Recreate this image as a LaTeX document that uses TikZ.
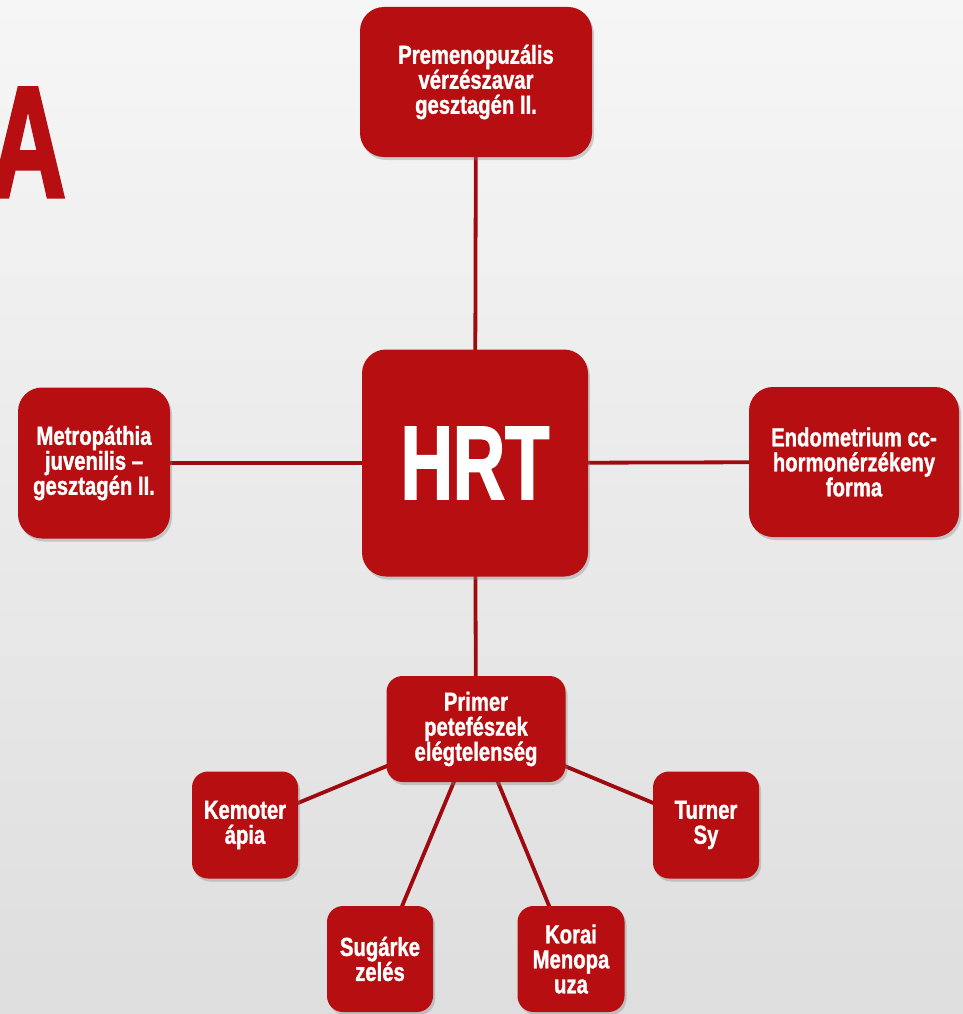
\documentclass[tikz,border=0pt]{standalone}
\usepackage{fontspec}
\usetikzlibrary{shadows,backgrounds}
\newfontfamily\boxfont{Liberation Sans}[FakeStretch=0.78,FakeBold=1.2]
\newfontfamily\hrtfont{Liberation Sans}[FakeStretch=0.69,FakeBold=1.5]
\newfontfamily\titlefont{Liberation Sans}[FakeStretch=0.66,FakeBold=2]
\definecolor{boxred}{RGB}{183,14,17}
\definecolor{linered}{RGB}{158,10,14}
\definecolor{bgtop}{RGB}{246,246,246}
\definecolor{bgbot}{RGB}{222,222,222}
\pgfdeclarelayer{bgzero}
\pgfsetlayers{bgzero,background,main}
\tikzset{
  redbox/.style={draw=none, fill=boxred, text=white, align=center, inner sep=0pt,
    drop shadow={opacity=0.35, shadow xshift=2pt, shadow yshift=-3pt},
    font=\boxfont\bfseries\fontsize{26}{25}\selectfont},
  bigbox/.style={redbox, rounded corners=24pt},
  smallbox/.style={redbox, rounded corners=16pt},
  conn/.style={draw=linered, line width=3.8pt}
}
\begin{document}
\begin{tikzpicture}[x=1pt,y=-1pt]
\useasboundingbox (0,0) rectangle (963,1014);
\begin{pgfonlayer}{bgzero}
\shade[top color=bgtop, bottom color=bgbot] (0,0) rectangle (963,1014);
\end{pgfonlayer}
\clip (0,0) rectangle (963,1014);
\node[anchor=base, inner sep=0pt, text=boxred, font=\titlefont\bfseries\fontsize{159}{159}\selectfont] (title) at (28,197) {A};
% main boxes
\node[bigbox, minimum width=232pt, minimum height=150pt] (top) at (476,82) {Premenopuzális\\vérzészavar\\gesztagén II.};
\node[bigbox, minimum width=226pt, minimum height=227pt, font=\hrtfont\bfseries\fontsize{105}{105}\selectfont] (hrt) at (475,463) {HRT};
\node[bigbox, minimum width=152pt, minimum height=151pt] (left) at (94,463) {Metropáthia\\juvenilis –\\gesztagén II.};
\node[bigbox, minimum width=210pt, minimum height=150pt] (right) at (854,462) {Endometrium cc-\\hormonérzékeny\\forma};
\node[smallbox, minimum width=179pt, minimum height=106pt] (prim) at (476,729) {Primer\\petefészek\\elégtelenség};
\node[smallbox, minimum width=106pt, minimum height=107pt] (kem) at (245,825) {Kemoter\\ápia};
\node[smallbox, minimum width=106pt, minimum height=106pt] (sug) at (380,959) {Sugárke\\zelés};
\node[smallbox, minimum width=107pt, minimum height=106pt] (kor) at (571,959) {Korai\\Menopa\\uza};
\node[smallbox, minimum width=106pt, minimum height=107pt] (tur) at (706,825) {Turner\\Sy};
\begin{pgfonlayer}{background}
\draw[conn] (top.center) -- (hrt.center);
\draw[conn] (left.center) -- (hrt.center);
\draw[conn] (right.center) -- (hrt.center);
\draw[conn] (hrt.center) -- (prim.center);
\draw[conn] (prim.center) -- (kem.center);
\draw[conn] (prim.center) -- (sug.center);
\draw[conn] (prim.center) -- (kor.center);
\draw[conn] (prim.center) -- (tur.center);
\end{pgfonlayer}
\end{tikzpicture}
\end{document}
